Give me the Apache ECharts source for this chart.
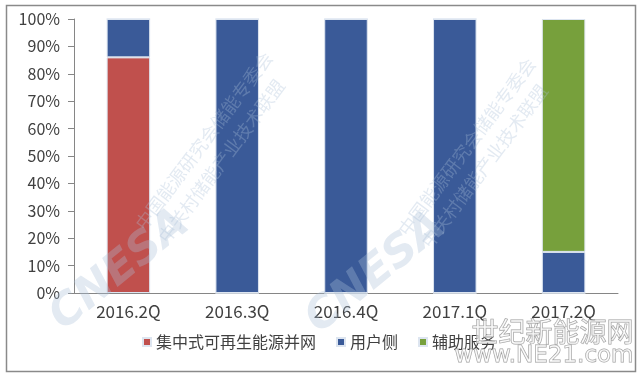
<!DOCTYPE html>
<html><head><meta charset="utf-8">
<script src="https://cdn.jsdelivr.net/npm/echarts@6/dist/echarts.min.js"></script>
<style>html,body{margin:0;padding:0;background:#fff}#c{width:640px;height:375px}</style>
</head><body><div id="c"></div>
<script>
var categories = ['2016.2Q', '2016.3Q', '2016.4Q', '2017.1Q', '2017.2Q'];
var seriesNames = ['集中式可再生能源并网', '用户侧', '辅助服务'];
var centralized = [86, 0, 0, 0, 0];
var userSide = [14, 100, 100, 100, 15];
var ancillary = [0, 0, 0, 0, 85];
var colors = ['#C0504D', '#3A5A98', '#77A03C'];

var chart = echarts.init(document.getElementById('c'));
var font = '"Noto Sans CJK SC", "Noto Sans", sans-serif';
var wm = 'rgba(170,190,215,0.33)';
function mk(name, data, i) {
  return {
    name: name, type: 'bar', stack: 'all', data: data, barWidth: '40%',
    itemStyle: { color: colors[i], borderColor: '#dde5f0', borderWidth: 1 }
  };
}
chart.setOption({
  animation: false,
  textStyle: { fontFamily: font },
  grid: { left: 74, right: 22, top: 19, bottom: 82, containLabel: false },
  legend: {
    bottom: 20, left: 137, itemWidth: 8, itemHeight: 8, itemGap: 20,
    icon: 'rect', textStyle: { fontSize: 16, color: '#404040', fontFamily: font },
    data: seriesNames
  },
  xAxis: {
    type: 'category', data: categories,
    axisLine: { lineStyle: { color: '#868686' } },
    axisTick: { length: 6, lineStyle: { color: '#868686' } },
    axisLabel: { fontSize: 17, color: '#404040', margin: 10 }
  },
  yAxis: {
    type: 'value', min: 0, max: 100, interval: 10,
    axisLine: { show: true, lineStyle: { color: '#868686' } },
    axisTick: { show: true, length: 6, lineStyle: { color: '#868686' } },
    splitLine: { show: false },
    axisLabel: { formatter: '{value}%', fontSize: 16, color: '#404040', margin: 14 }
  },
  graphic: [
    { type: 'rect', left: 4, top: 3, shape: { width: 629, height: 366 },
      style: { fill: 'none', stroke: '#8a8a8a', lineWidth: 1.5 }, z: 0 },
    { type: 'text', x: 42, y: 305, rotation: 0.68,
      style: { text: 'CNESA', fill: wm, font: 'bold italic 44px "DejaVu Sans"' }, z: 100 },
    { type: 'text', x: 132, y: 222, rotation: 0.93,
      style: { text: '中国能源研究会储能专委会', fill: wm, font: '18px "Noto Sans CJK SC"' }, z: 100 },
    { type: 'text', x: 155, y: 235, rotation: 0.93,
      style: { text: '中关村储能产业技术联盟', fill: wm, font: '18px "Noto Sans CJK SC"' }, z: 100 },
    { type: 'text', x: 298, y: 308, rotation: 0.68,
      style: { text: 'CNESA', fill: wm, font: 'bold italic 44px "DejaVu Sans"' }, z: 100 },
    { type: 'text', x: 395, y: 228, rotation: 0.93,
      style: { text: '中国能源研究会储能专委会', fill: wm, font: '18px "Noto Sans CJK SC"' }, z: 100 },
    { type: 'text', x: 418, y: 240, rotation: 0.93,
      style: { text: '中关村储能产业技术联盟', fill: wm, font: '18px "Noto Sans CJK SC"' }, z: 100 },
    { type: 'text', right: 6, top: 318,
      style: { text: '世纪新能源网', fill: 'rgba(255,255,255,0.6)', stroke: '#9a9a9a', lineWidth: 1, font: '27px "Noto Sans CJK SC"' }, z: 100 },
    { type: 'text', right: 6, top: 344,
      style: { text: 'www.NE21.com', fill: 'rgba(255,255,255,0.6)', stroke: '#9a9a9a', lineWidth: 1, font: '23px "DejaVu Sans"' }, z: 100 }
  ],
  series: [mk(seriesNames[0], centralized, 0), mk(seriesNames[1], userSide, 1), mk(seriesNames[2], ancillary, 2)]
});
</script></body></html>
